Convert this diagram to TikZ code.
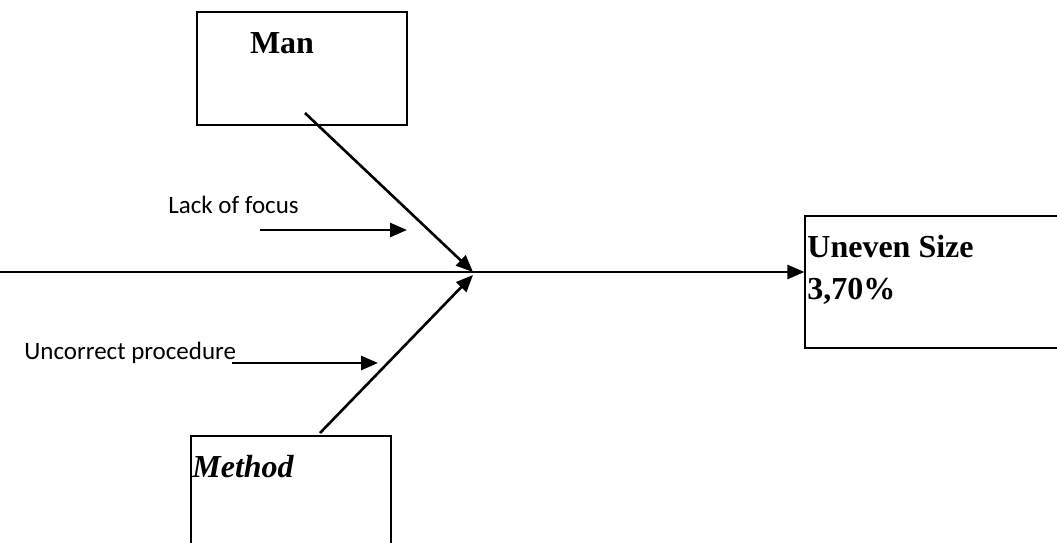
\documentclass[tikz,border=0pt]{standalone}
\usepackage{fontspec}
\setmainfont{Liberation Serif}
\newfontfamily\causefont{Carlito}
\usetikzlibrary{arrows.meta}

\begin{document}
\begin{tikzpicture}[x=0.5pt,y=-0.5pt]
            \tikzstyle{box} = [rectangle, draw, line width=0.6pt, inner sep=0pt]
            \tikzstyle{bone} = [line width=1.3pt, -{Triangle[length=8.5pt,width=7pt]}]
            \tikzstyle{title} = [font=\bfseries\fontsize{16}{21}\selectfont, inner sep=0pt]
            \tikzstyle{cause} = [font=\causefont\fontsize{12.5}{15}\selectfont, inner sep=0pt, anchor=base west]

            \useasboundingbox (0,0) rectangle (1057,542);
            \clip (0,0) rectangle (1057,542);

            % boxes
            \node [box, minimum width=105pt, minimum height=56.5pt] (man) at (302,68.5) {};
            \node [title, anchor=base] (mantitle) at (282,53) {Man};
            \node [box, minimum width=137.5pt, minimum height=66pt] (uneven) at (942.5,282) {};
            \node [title, align=left, anchor=north west] (uneventitle) at (807,235) {Uneven Size\\3,70\%};
            \node [box, minimum width=100pt, minimum height=82pt] (method) at (291,518) {};
            \node [title, font=\bfseries\itshape\fontsize{16}{21}\selectfont, anchor=base west] (methodtitle) at (192,477) {Method};

            % causes
            \node [cause] (focus) at (168,213) {Lack of focus};
            \node [cause] (procedure) at (24,359) {Uncorrect procedure};

            \coordinate (spinestart) at (0,272);
            \coordinate (head) at (473,272);
            \coordinate (manfoot) at (305,113);
            \coordinate (methodfoot) at (320,433);
            \coordinate (focusstart) at (260,230);
            \coordinate (focusend) at (407,230);
            \coordinate (procstart) at (232,363);
            \coordinate (procend) at (378,363);

            \draw [bone] (spinestart) -- (spinestart -| uneven.west);
            \draw [bone] (manfoot) -- (head);
            \draw [bone] (methodfoot) -- ([yshift=-1.5pt]head);
            \draw [bone] (focusstart) -- (focusend);
            \draw [bone] (procstart) -- (procend);
        \end{tikzpicture}
\end{document}
